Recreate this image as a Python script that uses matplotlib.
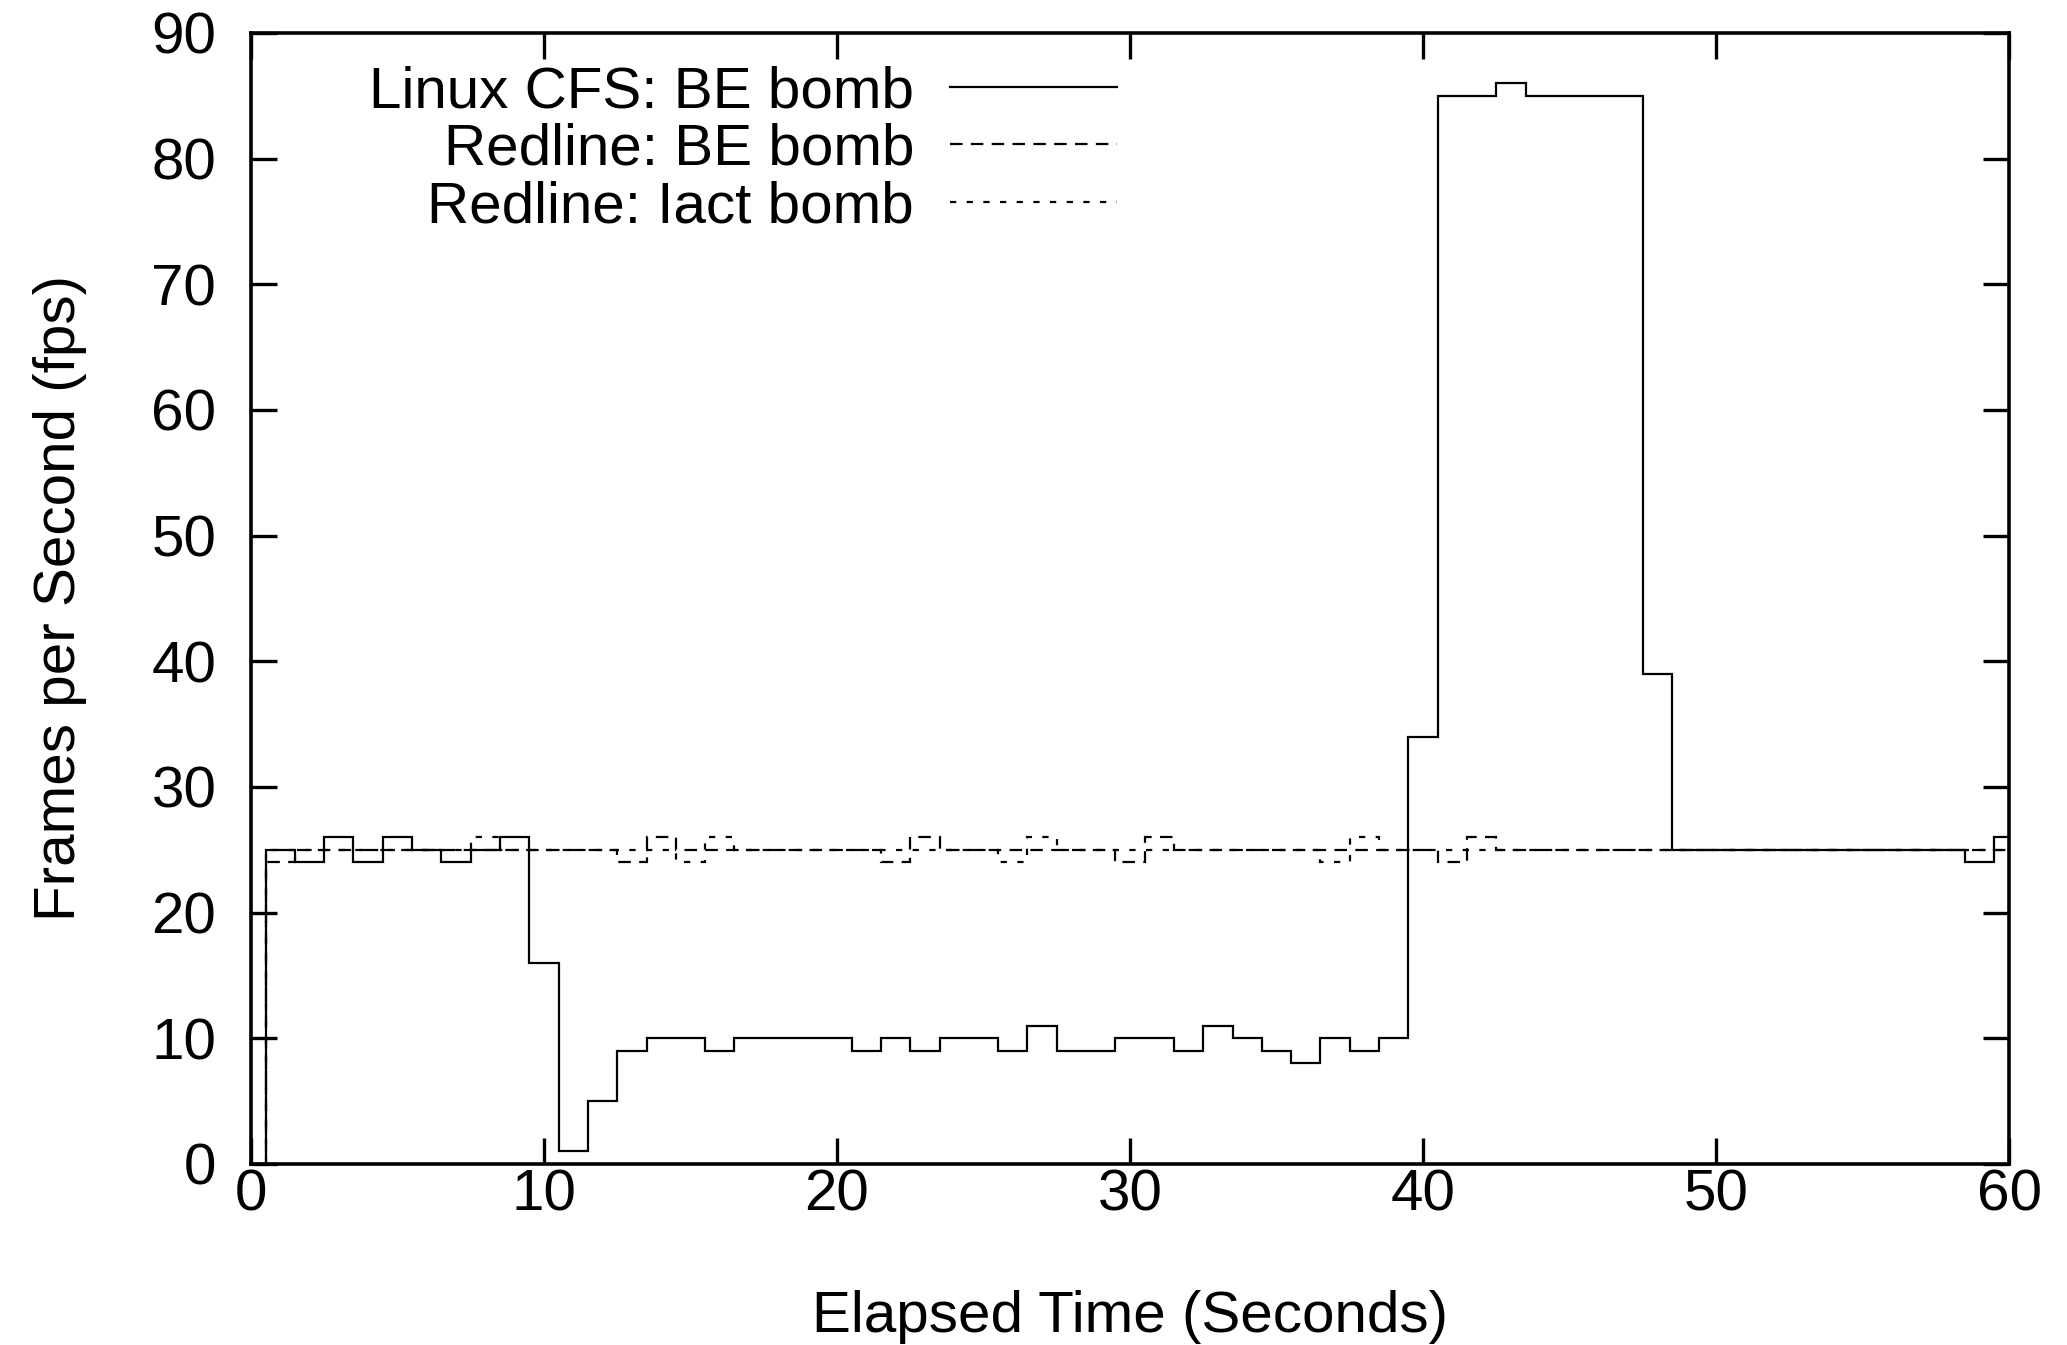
import numpy as np
import matplotlib
matplotlib.use("Agg")
import matplotlib.pyplot as plt
from matplotlib.lines import Line2D

# ---- data: one value per 1-second interval, interval k spans [k-0.5, k+0.5] ----
edges = np.arange(-0.5, 61.0, 1.0)  # interval boundaries

linux_cfs_be = [0,
    25, 24, 26, 24, 26, 25, 24, 25, 26, 16,
    1, 5, 9, 10, 10, 9, 10, 10, 10, 10,
    9, 10, 9, 10, 10, 9, 11, 9, 9, 10,
    10, 9, 11, 10, 9, 8, 10, 9, 10, 34,
    85, 85, 86, 85, 85, 85, 85, 39, 25, 25,
    25, 25, 25, 25, 25, 25, 25, 25, 24, 26]

redline_be = [0,
    24, 25, 25, 25, 25, 25, 25, 25, 25, 25,
    25, 25, 24, 26, 25, 25, 25, 25, 25, 25,
    25, 24, 26, 25, 25, 25, 25, 25, 25, 24,
    26, 25, 25, 25, 25, 25, 25, 25, 25, 25,
    24, 26, 25, 25, 25, 25, 25, 25, 25, 25,
    25, 25, 25, 25, 25, 25, 25, 25, 25, 25]

redline_iact = [0,
    25, 25, 25, 25, 25, 25, 25, 26, 25, 25,
    25, 25, 25, 25, 24, 26, 25, 25, 25, 25,
    25, 25, 25, 25, 25, 24, 26, 25, 25, 25,
    25, 25, 25, 25, 25, 25, 24, 26, 25, 25,
    25, 25, 25, 25, 25, 25, 25, 25, 25, 25,
    25, 25, 25, 25, 25, 25, 25, 25, 25, 25]

labels = ["Linux CFS: BE bomb", "Redline: BE bomb", "Redline: Iact bomb"]
x_ticks = [0, 10, 20, 30, 40, 50, 60]
y_ticks = [0, 10, 20, 30, 40, 50, 60, 70, 80, 90]

plt.rcParams['font.family'] = ['Liberation Sans', 'DejaVu Sans']
plt.rcParams['lines.scale_dashes'] = False

fig = plt.figure(figsize=(20.67, 13.45), dpi=100)
ax = fig.add_axes([0.1214, 0.1346, 0.8506, 0.8409])

lw = 1.6
ls_be = (0, (9, 6))
ls_iact = (0, (4.5, 7.5))
ax.stairs(redline_iact, edges, baseline=None, color='black', linewidth=lw,
          linestyle=ls_iact, zorder=2)
ax.stairs(redline_be, edges, baseline=None, color='black', linewidth=lw,
          linestyle=ls_be, zorder=2)
ax.stairs(linux_cfs_be, edges, baseline=None, color='black', linewidth=lw,
          linestyle='-', zorder=3)

ax.set_xlim(0, 60)
ax.set_ylim(0, 90)
ax.set_xticks(x_ticks)
ax.set_yticks(y_ticks)

fs = 42
ax.tick_params(axis='both', which='major', direction='in', length=19, width=2.4,
               top=True, right=True, labelsize=fs)
ax.tick_params(axis='x', pad=3)
ax.tick_params(axis='y', pad=25)
for s in ax.spines.values():
    s.set_linewidth(2.6)

ax.set_xlabel("Elapsed Time (Seconds)", fontsize=fs, labelpad=49)
ax.set_ylabel("Frames per Second (fps)", fontsize=fs, labelpad=46)

# legend, gnuplot style: right-aligned text then line sample
h = [Line2D([], [], color='black', lw=lw, linestyle='-'),
     Line2D([], [], color='black', lw=lw, linestyle=ls_be),
     Line2D([], [], color='black', lw=lw, linestyle=ls_iact)]
leg = fig.legend(h, labels, loc='upper right',
                 bbox_to_anchor=(1117 / 2067, 1 - 65 / 1345),
                 bbox_transform=fig.transFigure,
                 frameon=False, markerfirst=False, fontsize=fs,
                 handlelength=2.86, handletextpad=0.62, labelspacing=0.065,
                 borderpad=0.0, borderaxespad=0.0)

fig.savefig("out.png", dpi=100)
